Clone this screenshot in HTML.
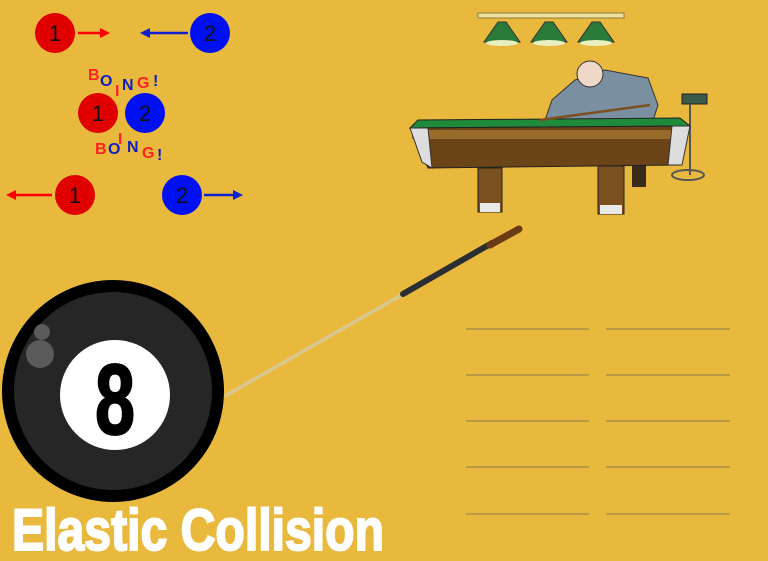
<!DOCTYPE html>
<html><head><meta charset="utf-8"><style>
html,body{margin:0;padding:0;background:#E9B93E;}
svg{display:block}
</style></head><body>
<svg width="768" height="561" viewBox="0 0 768 561" xmlns="http://www.w3.org/2000/svg">
<rect width="768" height="561" fill="#E9B93E"/>
<g font-family="Liberation Sans, sans-serif" font-size="22" text-anchor="middle" fill="#111">
<circle cx="55" cy="33" r="20" fill="#E00000"/><text x="55" y="41">1</text>
<line x1="78" y1="33" x2="102" y2="33" stroke="#f00" stroke-width="2.5"/><polygon points="110,33 100,28 100,38" fill="#f00"/>
<circle cx="210" cy="33" r="20" fill="#0010F0"/><text x="210" y="41">2</text>
<line x1="148" y1="33" x2="188" y2="33" stroke="#1020d0" stroke-width="2.5"/><polygon points="140,33 150,28 150,38" fill="#1020d0"/>
<circle cx="98" cy="113" r="20" fill="#E00000"/><text x="98" y="121">1</text>
<circle cx="145" cy="113" r="20" fill="#0010F0"/><text x="145" y="121">2</text>
<circle cx="75" cy="195" r="20" fill="#E00000"/><text x="75" y="203">1</text>
<line x1="14" y1="195" x2="52" y2="195" stroke="#f00" stroke-width="2.5"/><polygon points="6,195 16,190 16,200" fill="#f00"/>
<circle cx="182" cy="195" r="20" fill="#0010F0"/><text x="182" y="203">2</text>
<line x1="204" y1="195" x2="234" y2="195" stroke="#1020d0" stroke-width="2.5"/><polygon points="243,195 233,190 233,200" fill="#1020d0"/>
</g>
<g font-family="Liberation Sans, sans-serif" font-weight="bold" font-size="16">
<text x="88" y="80" fill="#f22">B</text><text x="100" y="86" fill="#1020c0">O</text><text x="115" y="96" fill="#f22">I</text><text x="122" y="90" fill="#1020c0">N</text><text x="137" y="88" fill="#f22">G</text><text x="153" y="86" fill="#1020c0">!</text>
<text x="95" y="154" fill="#f22">B</text><text x="108" y="154" fill="#1020c0">O</text><text x="118" y="144" fill="#f22">I</text><text x="127" y="152" fill="#1020c0">N</text><text x="142" y="158" fill="#f22">G</text><text x="157" y="160" fill="#1020c0">!</text>
</g>
<!-- lamps -->
<rect x="478" y="13" width="146" height="5" fill="#efe0a0" stroke="#8a7a40"/>
<g fill="#2a7a3a" stroke="#333">
<polygon points="498,22 506,22 520,42 484,42"/><polygon points="545,22 553,22 567,42 531,42"/><polygon points="592,22 600,22 614,42 578,42"/>
</g>
<g fill="#e8f0c0"><ellipse cx="502" cy="43" rx="16" ry="3"/><ellipse cx="549" cy="43" rx="16" ry="3"/><ellipse cx="596" cy="43" rx="16" ry="3"/></g>
<!-- man -->
<polygon points="552,100 575,80 605,70 648,78 658,105 650,130 560,125 545,120" fill="#7a8fa0" stroke="#333"/>
<circle cx="590" cy="74" r="13" fill="#f0d8c8" stroke="#333"/>
<rect x="632" y="165" width="14" height="22" fill="#3a2a1a"/>
<!-- stool -->
<rect x="682" y="94" width="25" height="10" fill="#3a5a4a" stroke="#222"/>
<line x1="690" y1="104" x2="690" y2="175" stroke="#555" stroke-width="2"/>
<ellipse cx="688" cy="175" rx="16" ry="5" fill="none" stroke="#555" stroke-width="2"/>
<!-- table -->
<polygon points="418,120 680,118 690,126 410,128" fill="#1f8a3a" stroke="#222"/>
<polygon points="410,128 690,126 680,165 428,168" fill="#6b4518" stroke="#222"/>
<rect x="412" y="130" width="275" height="9" fill="#9a6a2a"/>
<polygon points="410,128 428,128 432,168 422,162" fill="#ddd" stroke="#333"/>
<polygon points="672,126 690,126 682,165 668,165" fill="#ddd" stroke="#333"/>
<rect x="478" y="168" width="24" height="44" fill="#7a5020" stroke="#222"/>
<rect x="598" y="166" width="26" height="48" fill="#7a5020" stroke="#222"/>
<rect x="480" y="203" width="20" height="9" fill="#e8e8e8"/>
<rect x="600" y="205" width="22" height="9" fill="#e8e8e8"/>
<line x1="540" y1="120" x2="650" y2="105" stroke="#7a5020" stroke-width="2.5"/>
<!-- cue -->
<line x1="225" y1="396" x2="405" y2="293" stroke="#d8c890" stroke-width="3.5"/>
<line x1="403" y1="294" x2="492" y2="243" stroke="#2a2e32" stroke-width="6" stroke-linecap="round"/>
<line x1="490" y1="245" x2="519" y2="229" stroke="#6a3a14" stroke-width="7" stroke-linecap="round"/>
<!-- 8 ball -->
<circle cx="113" cy="391" r="111" fill="#000"/>
<circle cx="113" cy="391" r="99" fill="#262626"/>
<circle cx="42" cy="332" r="8" fill="#5a5a5a"/>
<circle cx="40" cy="354" r="14" fill="#5a5a5a"/>
<circle cx="115" cy="395" r="55" fill="#fff"/>
<text x="115" y="434" text-anchor="middle" font-family="Liberation Sans, sans-serif" font-weight="bold" font-size="100" fill="#000" stroke="#000" stroke-width="2" transform="translate(115 0) scale(0.72 1) translate(-115 0)">8</text>
<!-- title -->
<text x="12" y="550" font-family="Liberation Sans, sans-serif" font-weight="bold" font-size="58" fill="#fff" stroke="#fff" stroke-width="2" textLength="372" lengthAdjust="spacingAndGlyphs">Elastic Collision</text>
<!-- lines -->
<g stroke="#8a7a50" stroke-width="1">
<line x1="466" y1="329" x2="589" y2="329"/><line x1="606" y1="329" x2="730" y2="329"/>
<line x1="466" y1="375" x2="589" y2="375"/><line x1="606" y1="375" x2="730" y2="375"/>
<line x1="466" y1="421" x2="589" y2="421"/><line x1="606" y1="421" x2="730" y2="421"/>
<line x1="466" y1="467" x2="589" y2="467"/><line x1="606" y1="467" x2="730" y2="467"/>
<line x1="466" y1="514" x2="589" y2="514"/><line x1="606" y1="514" x2="730" y2="514"/>
</g>
</svg>
</body></html>
